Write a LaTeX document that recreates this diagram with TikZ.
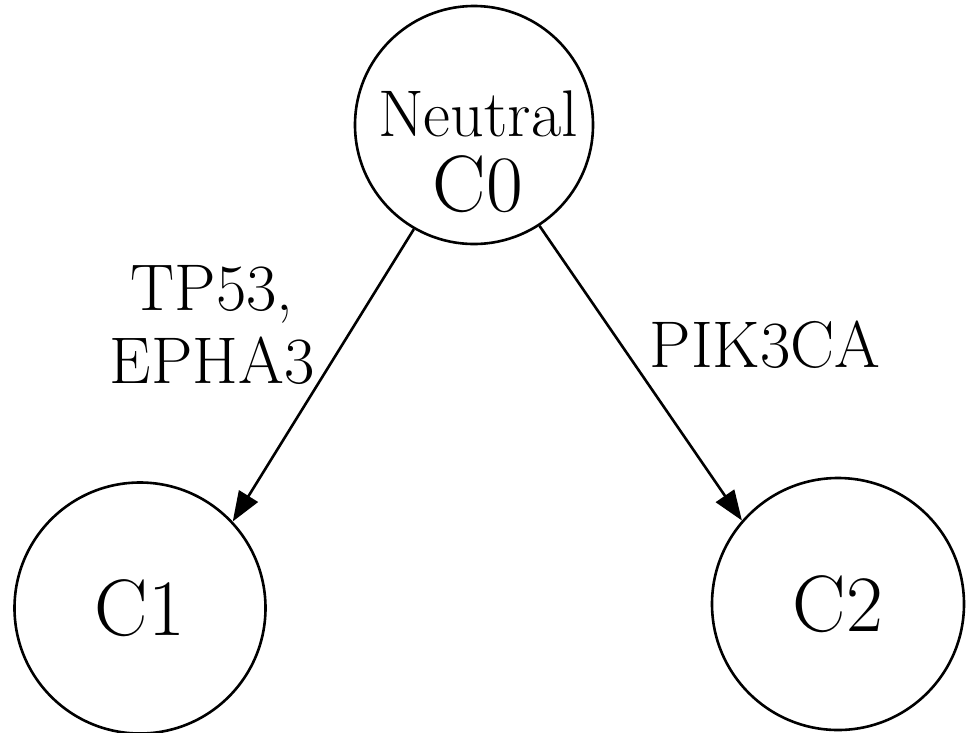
\documentclass[tikz,border=0pt]{standalone}
\usetikzlibrary{arrows.meta}
\newcommand{\bigfont}{\fontsize{80}{75}\selectfont}
\newcommand{\smallfont}{\fontsize{66}{73}\selectfont}
\tikzset{
  state/.style = {draw, circle, line width=2.6pt, inner sep=0pt},
  statetext/.style = {font=\bigfont, inner sep=0pt},
  edgetext/.style = {font=\smallfont, align=center, inner sep=0pt},
  edge/.style = {-{Triangle[length=30pt,width=22pt]}, line width=2.6pt},
}
\begin{document}
\begin{tikzpicture}[x=1pt, y=-1pt]
  \useasboundingbox (0,0) rectangle (966,732);
  % states
  \node[state, minimum size=238pt] (C0) at (474,125) {};
  \node[state, minimum size=251pt, statetext] (C1) at (140,608) {C1};
  \node[state, minimum size=252pt, statetext] (C2) at (838,604) {C2};
  \node[statetext, align=center] (C0text) at (478,152)
    {{\smallfont Neutral}\\{\bigfont C0}};
  % mutations
  \draw[edge] (C0.240) -- (C1.43);
  \draw[edge] (C0.303) -- (C2.139.5);
  \node[edgetext] (mutA) at (212,325) {TP53,\\EPHA3};
  \node[edgetext] (mutB) at (765,345) {PIK3CA};
\end{tikzpicture}
\end{document}
